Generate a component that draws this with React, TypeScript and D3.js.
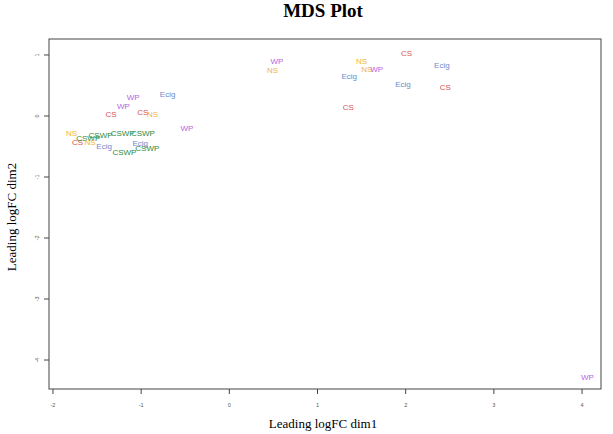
import * as d3 from "d3";

const sampleGroup = [
  "WP", "WP", "CS", "CS", "NS", "Ecig", "WP",
  "NS", "CS", "CSWP", "CSWP", "NS", "Ecig", "CSWP", "CSWP", "Ecig", "CSWP", "CSWP",
  "WP", "NS", "NS", "NS", "WP", "Ecig", "CS", "Ecig", "Ecig", "CS", "CS", "WP",
];
const dim1 = [
  -1.09, -1.2, -1.34, -0.98, -0.87, -0.7, -0.48,
  -1.79, -1.72, -1.6, -1.46, -1.58, -1.42, -1.21, -0.98, -1.01, -0.93, -1.19,
  0.54, 0.49, 1.5, 1.56, 1.67, 1.36, 2.01, 2.41, 1.97, 2.45, 1.35, 4.06,
];
const dim2 = [
  0.31, 0.16, 0.03, 0.07, 0.03, 0.36, -0.2,
  -0.28, -0.43, -0.36, -0.31, -0.43, -0.49, -0.28, -0.28, -0.44, -0.52, -0.59,
  0.89, 0.75, 0.9, 0.77, 0.77, 0.66, 1.03, 0.84, 0.52, 0.48, 0.15, -4.28,
];
const groups = ["CS", "NS", "WP", "Ecig", "CSWP"];
const groupColors = ["#D9534F", "#F0B43C", "#B565E0", "#6B8CCB", "#2F8A3A"];
const xTicks = [-2, -1, 0, 1, 2, 3, 4];
const yTicks = [1, 0, -1, -2, -3, -4];

const W = 613;
const H = 434;
const box = { left: 49, right: 601, top: 39, bottom: 389 };

export default function App() {
  const x = d3.scaleLinear().domain([-2.045, 4.215]).range([box.left, box.right]);
  const y = d3.scaleLinear().domain([1.262, -4.475]).range([box.top, box.bottom]);
  const color = d3.scaleOrdinal<string, string>().domain(groups).range(groupColors);
  const serif = "'Liberation Serif', 'DejaVu Serif', serif";
  const sans = "'Liberation Sans', Arial, sans-serif";

  return (
    <svg
      width={W}
      height={H}
      style={{ position: "absolute", left: 0, top: 0, background: "#fff" }}
    >
      <text x={323} y={17} textAnchor="middle" fontFamily={serif} fontWeight="bold" fontSize={19}>
        MDS Plot
      </text>
      <rect
        x={box.left}
        y={box.top}
        width={box.right - box.left}
        height={box.bottom - box.top}
        fill="none"
        stroke="#444"
        strokeWidth={1}
      />
      {xTicks.map((t) => (
        <g key={"x" + t}>
          <line x1={x(t)} x2={x(t)} y1={box.bottom} y2={box.bottom + 5} stroke="#444" />
          <text x={x(t)} y={407} textAnchor="middle" fontFamily={sans} fontSize={5.5} fill="#555">
            {t}
          </text>
        </g>
      ))}
      {yTicks.map((t) => (
        <g key={"y" + t}>
          <line x1={box.left} x2={box.left - 5} y1={y(t)} y2={y(t)} stroke="#444" />
          <text
            transform={`translate(39,${y(t)}) rotate(-90)`}
            textAnchor="middle"
            fontFamily={sans}
            fontSize={5.5}
            fill="#555"
          >
            {t}
          </text>
        </g>
      ))}
      <text x={323} y={428} textAnchor="middle" fontFamily={serif} fontSize={13}>
        Leading logFC dim1
      </text>
      <text
        transform={`translate(16,${(box.top + box.bottom) / 2 + 3}) rotate(-90)`}
        textAnchor="middle"
        fontFamily={serif}
        fontSize={13}
      >
        Leading logFC dim2
      </text>
      {sampleGroup.map((g, i) => (
        <text
          key={i}
          x={x(dim1[i])}
          y={y(dim2[i])}
          dy="0.35em"
          textAnchor="middle"
          fontFamily={sans}
          fontSize={8}
          fill={color(g)}
        >
          {g}
        </text>
      ))}
    </svg>
  );
}
